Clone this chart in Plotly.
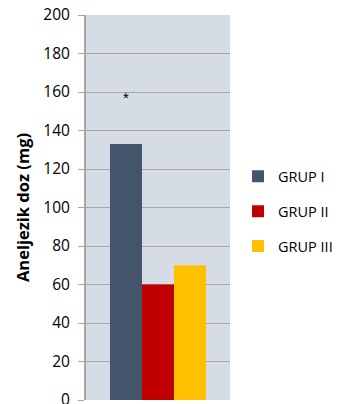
import plotly.graph_objects as go

# Mean analgesic dose per group
groups = ["GRUP I", "GRUP II", "GRUP III"]
doses = [133, 60, 70]
colors = ["#44546A", "#C00000", "#FFC000"]
category = [""]
star_value = 157
y_ticks = [0, 20, 40, 60, 80, 100, 120, 140, 160, 180, 200]

BARGAP = 0.333
n = len(groups)
bar_w = (1 - BARGAP) / n
# centre of the first bar inside the group, in category units
first_bar_center = -(1 - BARGAP) / 2 + bar_w / 2

fig = go.Figure()
for i, (name, val, col) in enumerate(zip(groups, doses, colors)):
    fig.add_trace(go.Bar(
        x=category, y=[val], name=name,
        marker=dict(color=col, line=dict(width=0)),
        legendgroup=str(i),
    ))

fig.add_annotation(
    x=first_bar_center, y=star_value, xref="x", yref="y",
    text="*", showarrow=False,
    font=dict(family="Liberation Sans", size=15, color="#000000"),
)

fig.update_layout(
    width=342, height=404,
    margin=dict(l=86, r=112, t=15, b=4, autoexpand=False),
    paper_bgcolor="#FFFFFF",
    plot_bgcolor="#D6DCE5",
    barmode="group",
    bargap=BARGAP,
    bargroupgap=0,
    showlegend=True,
    legend=dict(
        x=(238 - 86) / 144, xanchor="left", y=0.49, yanchor="middle",
        font=dict(family="Open Sans", size=14.5, color="#000000"),
        tracegroupgap=13,
        itemwidth=30,
        bgcolor="rgba(0,0,0,0)",
    ),
    xaxis=dict(
        showticklabels=False, showgrid=False, zeroline=False,
        ticks="", showline=False, automargin=False,
    ),
    yaxis=dict(
        range=[0, 200],
        tickvals=y_ticks,
        automargin=False,
        showgrid=True, gridcolor="#A6A6A6", gridwidth=1,
        zeroline=False,
        showline=True, linecolor="#A6A6A6", linewidth=2,
        ticks="outside", ticklen=6, tickcolor="#A6A6A6",
        ticklabelstandoff=5,
        ticklabeloverflow="allow",
        tickfont=dict(family="Open Sans", size=15.5, color="#000000"),
        title=dict(
            text="<b>Aneljezik doz (mg)</b>",
            font=dict(family="Open Sans", size=16.5, color="#000000"),
            standoff=10,
        ),
    ),
)

fig.write_html("out.html")
